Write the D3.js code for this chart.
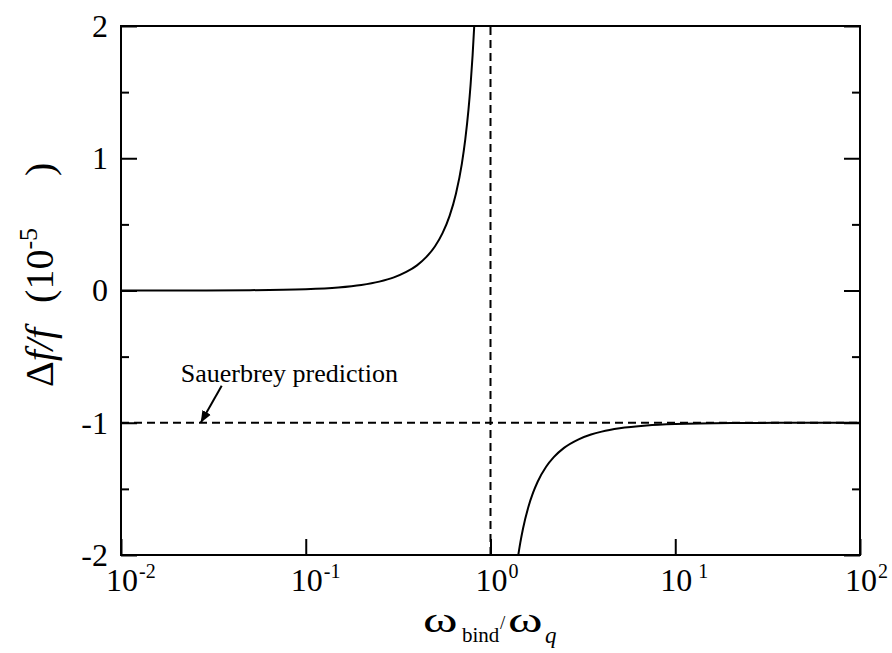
<!DOCTYPE html>
<html>
<head>
<meta charset="utf-8">
<script src="https://cdn.jsdelivr.net/npm/d3@7"></script>
<style>
  body { margin: 0; background: #fff; }
  svg text { font-family: "Liberation Serif", "Times New Roman", serif !important; fill: #000; }
</style>
</head>
<body>
<div id="chart"></div>
<script>
// readings from the figure (omega_bind / omega_q vs delta f / f, units 1e-5)
const belowX = [0.01, 0.02, 0.05, 0.1, 0.15, 0.2, 0.25, 0.3, 0.35, 0.4, 0.45, 0.5, 0.55, 0.6, 0.65, 0.7, 0.73, 0.76, 0.78, 0.8, 0.8165];
const belowY = [0.0001, 0.0004, 0.0025, 0.01, 0.023, 0.042, 0.067, 0.099, 0.14, 0.19, 0.254, 0.333, 0.434, 0.5625, 0.732, 0.96, 1.141, 1.367, 1.554, 1.778, 2.0];
const aboveX = [1.414, 1.45, 1.5, 1.6, 1.7, 1.8, 2, 2.2, 2.5, 3, 3.5, 4, 5, 7, 10, 20, 50, 100];
const aboveY = [-2.0, -1.907, -1.8, -1.641, -1.529, -1.446, -1.333, -1.26, -1.19, -1.125, -1.089, -1.067, -1.042, -1.021, -1.0101, -1.0025, -1.0004, -1.0001];
const sauerbrey = -1;
const resonance = 1;
const xTicks = [0.01, 0.1, 1, 10, 100];
const xExps = ["-2", "-1", "0", "1", "2"];
const yTicks = [-2, -1, 0, 1, 2];
const yMinor = [-1.5, -0.5, 0.5, 1.5];
const arrowTip = [0.027, -1];

const W = 892, H = 653;
const mLeft = 121, mRight = 860, mTop = 26, mBottom = 555;
const serif = '"Liberation Serif", "Times New Roman", serif';

const svg = d3.select("#chart").append("svg")
  .attr("width", W).attr("height", H);

const x = d3.scaleLog().domain([0.01, 100]).range([mLeft, mRight]);
const y = d3.scaleLinear().domain([-2, 2]).range([mBottom, mTop]);

svg.append("clipPath").attr("id", "clip")
  .append("rect").attr("x", mLeft).attr("y", mTop)
  .attr("width", mRight - mLeft).attr("height", mBottom - mTop);

const styleAxis = g => {
  g.attr("font-family", null);
  g.select(".domain").remove();
  g.selectAll(".tick line").attr("stroke", "#000").attr("stroke-width", 2);
  g.selectAll(".tick text").style("font-family", serif).style("font-size", "32px");
};

// y axis left (majors with labels, minors)
svg.append("g").attr("transform", `translate(${mLeft},0)`)
  .call(d3.axisLeft(y).tickValues(yTicks).tickSize(-16).tickPadding(13)
    .tickFormat(d => String(d)))
  .call(styleAxis);
svg.append("g").attr("transform", `translate(${mLeft},0)`)
  .call(d3.axisLeft(y).tickValues(yMinor).tickSize(-8).tickFormat(""))
  .call(styleAxis);
// y axis right
svg.append("g").attr("transform", `translate(${mRight},0)`)
  .call(d3.axisRight(y).tickValues(yTicks).tickSize(-16).tickFormat(""))
  .call(styleAxis);
svg.append("g").attr("transform", `translate(${mRight},0)`)
  .call(d3.axisRight(y).tickValues(yMinor).tickSize(-8).tickFormat(""))
  .call(styleAxis);
// x axis bottom
svg.append("g").attr("transform", `translate(0,${mBottom})`)
  .call(d3.axisBottom(x).tickValues(xTicks).tickSize(-16).tickFormat(""))
  .call(styleAxis);

// x tick labels 10^n
const xl = svg.append("g");
xTicks.forEach((t, i) => {
  const tx = xl.append("text")
    .attr("x", x(t) - 15).attr("y", 591)
    .style("font-family", serif).style("font-size", "32px");
  tx.append("tspan").text("10");
  tx.append("tspan").style("font-size", "20px").attr("dy", -13).attr("dx", xExps[i] === "1" ? 6 : 1)
    .text(xExps[i]);
});

// frame
svg.append("rect")
  .attr("x", mLeft).attr("y", mTop)
  .attr("width", mRight - mLeft).attr("height", mBottom - mTop)
  .attr("fill", "none").attr("stroke", "#000").attr("stroke-width", 2);

// dashed reference lines
svg.append("line")
  .attr("x1", x(0.01)).attr("x2", x(100))
  .attr("y1", y(sauerbrey)).attr("y2", y(sauerbrey))
  .attr("stroke", "#000").attr("stroke-width", 2).attr("stroke-dasharray", "8,5");
svg.append("line")
  .attr("x1", x(resonance)).attr("x2", x(resonance))
  .attr("y1", y(-2)).attr("y2", y(2))
  .attr("stroke", "#000").attr("stroke-width", 2).attr("stroke-dasharray", "8,5");

// curves
const line = d3.line().x(d => x(d[0])).y(d => y(d[1])).curve(d3.curveMonotoneX);
const plot = svg.append("g").attr("clip-path", "url(#clip)");
[[belowX, belowY], [aboveX, aboveY]].forEach(([xs, ys]) => {
  plot.append("path")
    .datum(xs.map((v, i) => [v, ys[i]]))
    .attr("d", line)
    .attr("fill", "none").attr("stroke", "#000").attr("stroke-width", 2);
});

// annotation
svg.append("defs").append("marker")
  .attr("id", "arrow").attr("viewBox", "0 0 10 10")
  .attr("refX", 10).attr("refY", 5)
  .attr("markerWidth", 12).attr("markerHeight", 12)
  .attr("markerUnits", "userSpaceOnUse")
  .attr("orient", "auto")
  .append("path").attr("d", "M0,1 L10,5 L0,9 Z").attr("fill", "#000");
const tipX = x(arrowTip[0]), tipY = y(arrowTip[1]);
svg.append("line")
  .attr("x1", tipX + 21).attr("y1", tipY - 37)
  .attr("x2", tipX).attr("y2", tipY)
  .attr("stroke", "#000").attr("stroke-width", 2)
  .attr("marker-end", "url(#arrow)");
svg.append("text")
  .attr("x", tipX - 20).attr("y", tipY - 41)
  .style("font-family", serif).style("font-size", "26px")
  .text("Sauerbrey prediction");

// x axis title: wide omegas, subscripts
const xt = svg.append("g").style("font-family", serif);
xt.append("text").attr("transform", "translate(423,632) scale(1.5,1)")
  .style("font-size", "35px").text("ω");
xt.append("text").attr("x", 462).attr("y", 642).style("font-size", "21px").text("bind");
xt.append("text").attr("x", 500).attr("y", 629).style("font-size", "19px").text("/");
xt.append("text").attr("transform", "translate(508,632) scale(1.5,1)")
  .style("font-size", "35px").text("ω");
xt.append("text").attr("x", 545).attr("y", 643).style("font-size", "23px")
  .style("font-style", "italic").text("q");

// y axis title
const yt = svg.append("text")
  .attr("transform", "translate(53,387) rotate(-90)")
  .style("font-family", serif).style("font-size", "40px");
yt.append("tspan").text("Δ");
yt.append("tspan").style("font-style", "italic").text("f/f");
yt.append("tspan").attr("dx", 25).text("(10");
yt.append("tspan").style("font-size", "26px").attr("dy", -16).text("-5");
yt.append("tspan").attr("dx", 52).attr("dy", 16).text(")");
</script>
</body>
</html>
